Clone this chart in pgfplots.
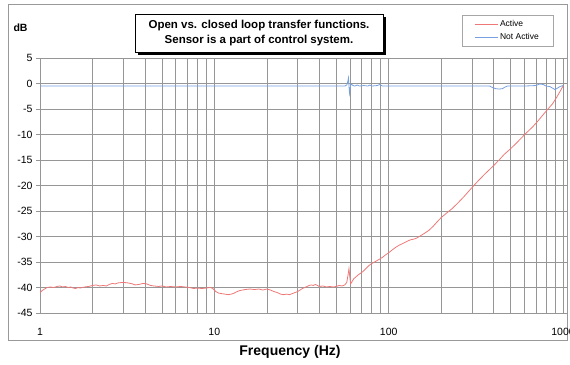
\documentclass[border=0pt]{standalone}
\usepackage{pgfplots}
\pgfplotsset{compat=1.18}
\usepackage{fontspec}
\setmainfont{Liberation Sans}
\definecolor{gridgray}{RGB}{150,150,150}
\definecolor{activered}{RGB}{238,120,120}
\definecolor{inactiveblue}{RGB}{120,160,225}
\begin{document}
\begin{tikzpicture}[x=1pt,y=1pt]
\useasboundingbox (0,0) rectangle (570,364);
% outer chart border
\draw[gray!80, line width=0.8pt] (8,24) rectangle (567,360);
\begin{axis}[
  at={(40pt,51pt)}, anchor=south west,
  scale only axis, width=523pt, height=255pt,
  xmode=log, xmin=1, xmax=1000, ymin=-45, ymax=5,
  ytick={-45,-40,...,5},
  xtick={1,10,100,1000}, xticklabels={1,10,100,1000},
  log ticks with fixed point,
  grid=both,
  major grid style={gridgray, line width=0.6pt},
  minor grid style={gridgray, line width=0.6pt},
  axis line style={gridgray, line width=0.6pt},
  tick align=outside, major tick length=4pt,
  ytick style={gridgray, line width=0.6pt},
  xtick style={draw=none}, minor tick style={draw=none},
  /pgf/number format/assume math mode=true,
  ticklabel style={font=\fontsize{10.5}{12}\selectfont},
  xticklabel style={yshift=-8pt},
  legend style={at={(0.807,1.169)}, anchor=north west, draw=gray!70,
    inner xsep=12pt, inner ysep=3pt, row sep=2pt,
    font=\fontsize{8.5}{10}\selectfont, fill=white},
  legend cell align=left,
  legend image code/.code={\draw[#1] (0pt,0pt) -- (23pt,0pt);},
]
\addplot[activered, line width=0.8pt] coordinates {
(1.00,-41.0) (1.03,-40.6) (1.06,-40.3) (1.10,-40.0) (1.15,-39.9) (1.20,-40.0)
(1.25,-39.8) (1.30,-39.7) (1.35,-39.9) (1.40,-39.8) (1.45,-40.0) (1.50,-39.9)
(1.55,-40.1) (1.60,-40.2) (1.65,-40.0) (1.70,-40.1) (1.80,-39.9) (1.90,-39.8)
(2.00,-39.6) (2.10,-39.5) (2.20,-39.7) (2.30,-39.6) (2.40,-39.7) (2.50,-39.4)
(2.60,-39.2) (2.70,-39.3) (2.80,-39.1) (3.00,-39.0) (3.20,-39.1) (3.40,-39.3)
(3.50,-39.5) (3.70,-39.4) (3.90,-39.2) (4.10,-39.3) (4.30,-39.6) (4.50,-39.7)
(4.80,-39.8) (5.00,-39.7) (5.30,-39.9) (5.60,-39.8) (6.00,-39.9) (6.40,-39.8)
(6.80,-39.9) (7.20,-40.0) (7.60,-40.2) (8.00,-40.1) (8.50,-40.2) (9.00,-40.1)
(9.50,-40.0) (9.80,-40.2) (10.2,-40.8) (10.6,-41.1) (11.0,-41.2) (11.5,-41.3)
(12.0,-41.4) (12.5,-41.3) (13.0,-41.1) (13.5,-40.8) (14.0,-40.6) (14.5,-40.5)
(15.0,-40.4) (16.0,-40.3) (17.0,-40.4) (18.0,-40.3) (19.0,-40.5) (20.0,-40.3)
(21.0,-40.5) (22.0,-40.8) (23.0,-41.0) (24.0,-41.3) (25.0,-41.4) (26.0,-41.3)
(27.0,-41.4) (28.0,-41.2) (29.0,-41.0) (30.0,-40.8) (31.0,-40.5) (32.0,-40.2)
(33.0,-40.0) (34.0,-39.8) (35.0,-39.6) (36.0,-39.5) (37.0,-39.6) (38.0,-39.4)
(39.0,-39.6) (40.0,-39.8) (42.0,-39.7) (44.0,-39.9) (46.0,-39.8) (48.0,-39.9)
(50.0,-39.8) (52.0,-39.6) (54.0,-39.7) (56.0,-39.5) (57.5,-39.0) (58.5,-37.5)
(59.2,-36.3) (59.8,-37.8) (60.5,-39.3) (61.5,-38.9) (63.0,-38.3) (65.0,-37.9)
(67.0,-37.5) (69.0,-37.2) (71.0,-36.9) (74.0,-36.3) (77.0,-35.7) (80.0,-35.3)
(84.0,-34.9) (88.0,-34.5) (92.0,-34.1) (96.0,-33.6) (100,-33.2) (105,-32.6)
(110,-32.1) (115,-31.7) (120,-31.4) (125,-31.1) (130,-30.8) (135,-30.6)
(140,-30.5) (145,-30.3) (150,-30.0) (160,-29.4) (170,-28.8) (180,-28.0)
(190,-27.1) (200,-26.3) (215,-25.4) (230,-24.6) (250,-23.4) (270,-22.2)
(290,-21.0) (310,-19.9) (330,-18.9) (360,-17.6) (400,-16.1) (430,-15.0)
(460,-13.9) (500,-12.8) (540,-11.7) (580,-10.6) (620,-9.6) (670,-8.5)
(720,-7.3) (770,-6.1) (820,-5.0) (870,-4.0) (920,-2.7) (960,-1.6) (1000,-0.5)
};
\addlegendentry{Active}
\addplot[inactiveblue, line width=0.8pt] coordinates {
(1,-0.5) (5,-0.5) (20,-0.5) (50,-0.5) (56,-0.5) (57.5,-0.3) (58.3,0.4)
(58.8,1.1) (59.2,-0.4) (59.6,-1.9) (60.1,-1.0) (60.8,-0.1) (61.5,-0.2)
(62.5,-0.4) (64,-0.5) (66,-0.3) (68,-0.5) (72,-0.4) (76,-0.5) (78,-0.3)
(80,-0.5) (86,-0.4) (89,-0.2) (92,-0.5) (100,-0.5) (200,-0.5) (300,-0.5)
(380,-0.5) (395,-0.8) (410,-1.0) (430,-1.1) (450,-1.0) (465,-0.7)
(480,-0.5) (600,-0.5) (700,-0.4) (735,-0.1) (770,-0.2) (800,-0.5)
(840,-0.6) (870,-0.9) (900,-1.2) (930,-0.9) (960,-0.6) (1000,-0.4)
};
\addlegendentry{Not Active}
\end{axis}
% title box with shadow
\fill[black] (138,309) rectangle (386,347);
\draw[black, line width=0.5pt, fill=white] (135,312) rectangle (383,350);
\node[align=center, font=\fontsize{11.5}{15}\selectfont\bfseries] at (259,331)
  {Open vs. closed loop transfer functions.\\Sensor is a part of control system.};
\node[anchor=west, font=\fontsize{10.5}{12}\selectfont\bfseries] at (10,336) {dB};
\node[font=\fontsize{14}{16}\selectfont\bfseries] at (290,12) {Frequency (Hz)};
\end{tikzpicture}
\end{document}
